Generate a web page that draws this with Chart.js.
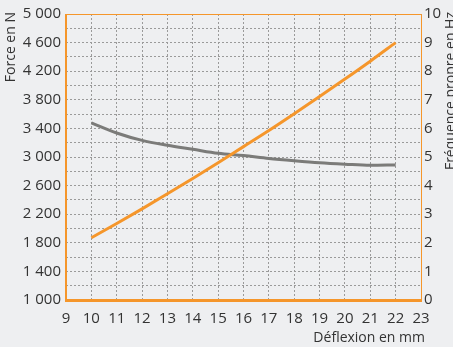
<!DOCTYPE html>
<html>
<head>
<meta charset="utf-8">
<script src="https://cdn.jsdelivr.net/npm/chart.js@4"></script>
<style>
  html, body { margin:0; padding:0; background:#eeeff1; }
  #c { display:block; }
</style>
</head>
<body>
<canvas id="c" width="453" height="347"></canvas>
<script>
(() => {
  "use strict";

  // deflection in mm
  const deflection = [10, 11, 12, 13, 14, 15, 16, 17, 18, 19, 20, 21, 22];
  // force in N (left axis)
  const force      = [1870, 2070, 2275, 2485, 2700, 2920, 3145, 3370, 3605, 3845, 4090, 4340, 4600];
  // natural frequency in Hz (right axis)
  const frequency  = [6.19, 5.84, 5.58, 5.41, 5.27, 5.13, 5.05, 4.95, 4.87, 4.80, 4.75, 4.71, 4.72];

  const xTitle  = "Déflexion en mm";
  const yTitle  = "Force en N";
  const y1Title = "Fréquence propre en Hz";

  const ORANGE = "#f5962b";
  const GREY   = "#7b7b79";
  const GRID   = "#9a9a9a";
  const TEXT   = "#333333";
  const FONT   = "'Open Sans', sans-serif";

  const fmt = v => String(v).replace(/\B(?=(\d{3})+(?!\d))/g, " ");

  const pts = ys => deflection.map((x, i) => ({ x, y: ys[i] }));

  // frame + axis titles
  const frame = {
    id: "frame",
    beforeDatasetsDraw(chart){
      const { ctx, chartArea: a } = chart;
      ctx.save();
      ctx.strokeStyle = ORANGE;
      ctx.lineWidth = 1;
      ctx.beginPath();
      ctx.moveTo(a.left, a.top + 0.5);
      ctx.lineTo(a.right + 0.5, a.top + 0.5);
      ctx.lineTo(a.right + 0.5, a.bottom);
      ctx.stroke();
      ctx.lineWidth = 2;
      ctx.beginPath();
      ctx.moveTo(a.left, a.top);
      ctx.lineTo(a.left, a.bottom);
      ctx.stroke();
      ctx.lineWidth = 3;
      ctx.beginPath();
      ctx.moveTo(a.left - 1, a.bottom + 0.5);
      ctx.lineTo(a.right + 1, a.bottom + 0.5);
      ctx.stroke();
      ctx.restore();
    },
    afterDraw(chart){
      const { ctx } = chart;
      ctx.save();
      ctx.fillStyle = TEXT;
      ctx.font = `14px ${FONT}`;
      ctx.textBaseline = "alphabetic";

      ctx.textAlign = "right";
      ctx.fillText(xTitle, 425, 342);

      ctx.save();
      ctx.translate(15, 12);
      ctx.rotate(-Math.PI / 2);
      ctx.textAlign = "right";
      ctx.fillText(yTitle, 0, 0);
      ctx.restore();

      ctx.save();
      ctx.translate(455, 12);
      ctx.rotate(-Math.PI / 2);
      ctx.textAlign = "right";
      ctx.fillText(y1Title, 0, 0);
      ctx.restore();

      ctx.restore();
    }
  };

  new Chart(document.getElementById("c").getContext("2d"), {
    type: "line",
    data: {
      datasets: [
        { label: "Force", data: pts(force), yAxisID: "y",
          borderColor: ORANGE, borderWidth: 3, pointRadius: 0, tension: 0.3,
          cubicInterpolationMode: "monotone", borderCapStyle: "butt" },
        { label: "Fréquence", data: pts(frequency), yAxisID: "y1",
          borderColor: GREY, borderWidth: 3, pointRadius: 0, tension: 0.4,
          cubicInterpolationMode: "monotone", borderCapStyle: "butt" }
      ]
    },
    options: {
      responsive: false,
      animation: false,
      layout: { padding: { top: 12, left: 0, right: 0, bottom: 0 } },
      plugins: { legend: { display: false }, tooltip: { enabled: false } },
      scales: {
        x: {
          type: "linear", min: 9, max: 23,
          afterFit: s => { s.height = 47; },
          ticks: { stepSize: 1, padding: 10, color: TEXT, font: { family: FONT, size: 15 } },
          grid: { color: GRID, drawTicks: false, lineWidth: 1 },
          border: { display: false, dash: [2, 2] }
        },
        y: {
          position: "left", min: 1000, max: 5000,
          afterFit: s => { s.width = 66; },
          ticks: { stepSize: 200, padding: 5, color: TEXT, font: { family: FONT, size: 15 },
                   autoSkip: false,
                   callback: v => ((v - 1000) % 400 === 0 ? fmt(v) : "") },
          grid: { color: GRID, drawTicks: false, lineWidth: 1 },
          border: { display: false, dash: [2, 2] }
        },
        y1: {
          position: "right", min: 0, max: 10,
          afterFit: s => { s.width = 32; },
          ticks: { stepSize: 1, padding: 3, color: TEXT, font: { family: FONT, size: 15 } },
          grid: { display: false, drawTicks: false },
          border: { display: false }
        }
      }
    },
    plugins: [frame]
  });
})();
</script>
</body>
</html>
